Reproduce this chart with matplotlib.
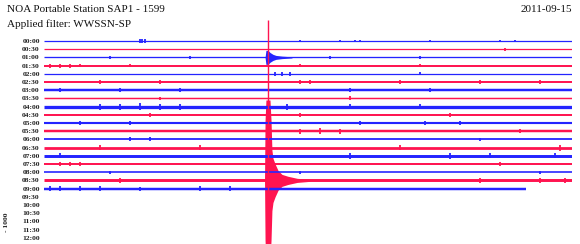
import numpy as np
import matplotlib
matplotlib.use('Agg')
import matplotlib.pyplot as plt

# helicorder rows: one every 30 minutes, 00:00 .. 12:00
row_labels = ['%02d:%02d' % (h, m) for h in range(13) for m in (0, 30)][:25]
n_traces = 19            # rows 00:00 .. 09:00 have data
last_row_end = 27.4      # minutes of data in the 09:00 row

# background noise half-amplitude per row (in row units)
noise_amp = [0.07, 0.07, 0.08, 0.12, 0.07, 0.12, 0.15, 0.09, 0.2, 0.12,
             0.13, 0.15, 0.11, 0.17, 0.18, 0.12, 0.1, 0.18, 0.15]

# small bursts: row index, minute, half-amplitude (row units)
burst_row = [0, 0, 0, 0, 0, 0, 0, 0, 0, 0,
             1,
             2, 2, 2, 2,
             3, 3, 3, 3, 3, 3, 3,
             4, 4, 4, 4,
             5, 5, 5, 5, 5, 5, 5,
             6, 6, 6, 6, 6,
             7, 7,
             8, 8, 8, 8, 8, 8, 8, 8,
             9, 9, 9,
             10, 10, 10, 10, 10,
             11, 11, 11, 11,
             12, 12, 12,
             13, 13, 13, 13,
             14, 14, 14, 14, 14,
             15, 15, 15, 15,
             16, 16, 16,
             17, 17, 17, 17,
             18, 18, 18, 18, 18, 18, 18]
burst_min = [5.45, 5.57, 5.74, 14.55, 16.82, 17.67, 17.95, 21.93, 25.91, 26.76,
             26.19,
             3.75, 8.30, 16.25, 21.36,
             0.34, 0.91, 1.48, 2.05, 4.89, 14.55, 21.36,
             13.13, 13.52, 13.98, 21.36,
             3.18, 6.59, 14.55, 15.11, 20.23, 24.77, 28.18,
             0.91, 4.32, 7.73, 17.39, 21.93,
             6.59, 17.39,
             3.18, 4.32, 5.45, 6.59, 7.73, 13.81, 17.39, 21.36,
             6.02, 14.55, 23.07,
             2.05, 4.89, 17.95, 21.65, 23.64,
             14.55, 15.68, 16.82, 27.05,
             4.89, 6.02, 24.77,
             3.18, 8.86, 20.23, 29.32,
             0.91, 17.39, 23.07, 25.34, 29.03,
             0.91, 1.48, 2.05, 25.91,
             3.75, 14.55, 28.18,
             4.32, 24.77, 28.18, 29.60,
             0.34, 0.91, 2.05, 3.18, 5.45, 8.86, 10.57]
burst_amp = [0.3, 0.3, 0.24, 0.18, 0.18, 0.18, 0.18, 0.18, 0.15, 0.15,
             0.18,
             0.18, 0.18, 0.18, 0.18,
             0.24, 0.24, 0.24, 0.18, 0.18, 0.18, 0.18,
             0.24, 0.24, 0.24, 0.18,
             0.24, 0.24, 0.24, 0.24, 0.24, 0.24, 0.24,
             0.24, 0.24, 0.24, 0.24, 0.24,
             0.18, 0.24,
             0.37, 0.37, 0.43, 0.37, 0.37, 0.37, 0.3, 0.3,
             0.24, 0.24, 0.24,
             0.24, 0.3, 0.24, 0.3, 0.3,
             0.3, 0.37, 0.3, 0.24,
             0.24, 0.24, 0.18,
             0.3, 0.3, 0.3, 0.37,
             0.3, 0.37, 0.37, 0.3, 0.3,
             0.3, 0.3, 0.3, 0.24,
             0.18, 0.18, 0.18,
             0.3, 0.3, 0.3, 0.3,
             0.3, 0.3, 0.3, 0.3, 0.24, 0.3, 0.3]

# earthquake on the 08:30 row: envelope (minute, half-amplitude in rows)
quake_row = 17
quake_t = [12.53, 12.56, 12.61, 12.84, 12.90, 12.95, 13.01, 13.13, 13.30,
           13.52, 13.86, 14.38, 15.11]
quake_amp = [0.0, 7.3, 9.8, 9.8, 7.3, 3.7, 2.7, 2.0, 1.2, 0.73, 0.5, 0.25, 0.12]
spike_t = 12.73
spike_amp = 19.5

# matching burst on the 01:00 row
burst2_row = 2
burst2_t = [12.56, 12.61, 12.73, 12.84, 13.01, 13.18, 13.52, 14.09]
burst2_amp = [0.0, 0.85, 0.85, 0.6, 0.37, 0.24, 0.15, 0.07]

blue = '#2424ff'
red = '#ff1450'

W, H = 580, 244
fig = plt.figure(figsize=(W / 100, H / 100), dpi=100)
fig.patch.set_facecolor('white')
ax = fig.add_axes([44 / W, 0, 528 / W, 1])
ax.set_xlim(0, 30)
ax.set_ylim(24.76, -5.0)

for r in range(n_traces):
    col = blue if r % 2 == 0 else red
    end = last_row_end if r == n_traces - 1 else 30
    lw = max(2 * noise_amp[r] * 8.2 * 0.72, 0.9)
    ax.plot([0, end], [r, r], color=col, lw=lw, solid_capstyle='butt')

burst_row = np.array(burst_row)
burst_min = np.array(burst_min)
burst_amp = np.array(burst_amp)
cols = [blue if r % 2 == 0 else red for r in burst_row]
ax.vlines(burst_min, burst_row - burst_amp, burst_row + burst_amp,
          colors=cols, lw=1.3)

qt = np.array(quake_t)
qa = np.array(quake_amp)
ax.fill_between(qt, quake_row - qa, quake_row + qa, color=red, lw=0)
ax.vlines(spike_t, quake_row - spike_amp, quake_row + spike_amp, colors=red, lw=1)

bt = np.array(burst2_t)
ba = np.array(burst2_amp)
ax.fill_between(bt, burst2_row - ba, burst2_row + ba, color=blue, lw=0)

ax.set_yticks(range(len(row_labels)))
ax.set_yticklabels(row_labels, fontsize=5.4, fontfamily='Liberation Serif',
                   fontweight='bold', color='#222222')
ax.tick_params(axis='y', length=0, pad=3)
ax.set_xticks([])
for s in ax.spines.values():
    s.set_visible(False)

fig.text(7 / W, 1 - 9 / H, 'NOA Portable Station SAP1 - 1599', fontsize=8,
         fontfamily='Liberation Serif', va='center', ha='left', color='#111111')
fig.text(7 / W, 1 - 24 / H, 'Applied filter: WWSSN-SP', fontsize=8,
         fontfamily='Liberation Serif', va='center', ha='left', color='#111111')
fig.text(572 / W, 1 - 9 / H, '2011-09-15', fontsize=8,
         fontfamily='Liberation Serif', va='center', ha='right', color='#111111')
fig.text(7 / W, 1 - 212 / H, '- 1000', fontsize=5.4, rotation=90,
         fontfamily='Liberation Serif', fontweight='bold',
         va='top', ha='center', color='#222222')

fig.savefig('out.png', dpi=100, facecolor='white')
